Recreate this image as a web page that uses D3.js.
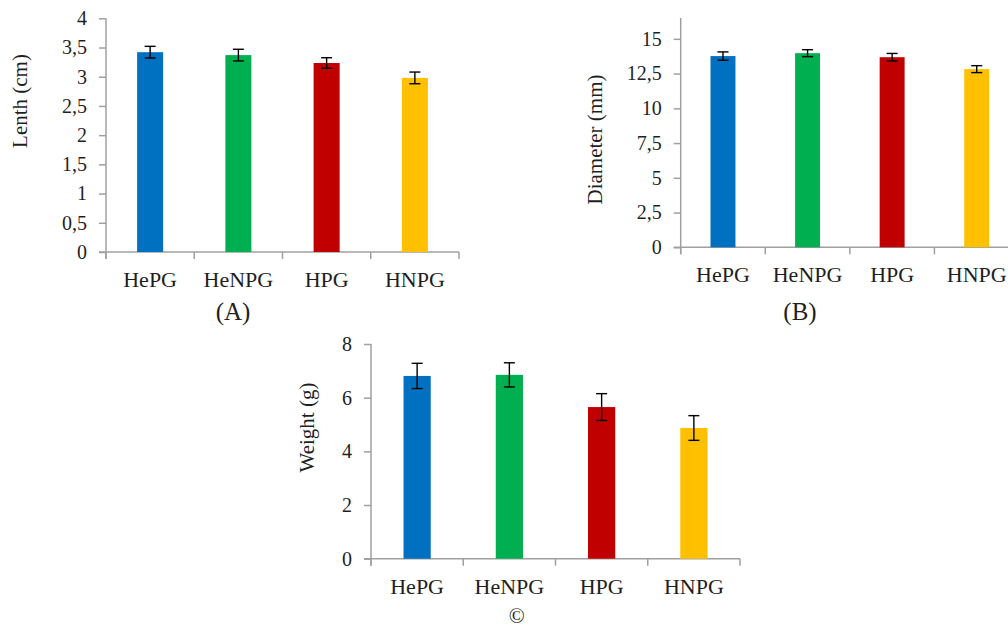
<!DOCTYPE html>
<html>
<head>
<meta charset="utf-8">
<script src="https://cdn.jsdelivr.net/npm/d3@7/dist/d3.min.js"></script>
<style>
  html, body { margin: 0; padding: 0; background: #fff; }
  svg { display: block; }
  text { font-family: "Liberation Serif", "Times New Roman", serif; fill: #1f1f1f; }
</style>
</head>
<body>
<svg id="chart" width="1008" height="629"></svg>
<script>
// ---- Data ----
const categories = ["HePG", "HeNPG", "HPG", "HNPG"];
const barColors = ["#0070C0", "#00B050", "#C00000", "#FFC000"];

const lengthValues = [3.42, 3.37, 3.235, 2.98];
const lengthErrors = [0.10, 0.10, 0.09, 0.10];
const lengthTicks = [0, 0.5, 1, 1.5, 2, 2.5, 3, 3.5, 4];

const diameterValues = [13.76, 13.97, 13.68, 12.82];
const diameterErrors = [0.30, 0.25, 0.27, 0.25];
const diameterTicks = [0, 2.5, 5, 7.5, 10, 12.5, 15];

const weightValues = [6.81, 6.85, 5.65, 4.87];
const weightErrors = [0.47, 0.45, 0.50, 0.46];
const weightTicks = [0, 2, 4, 6, 8];

const panelTitles = ["(A)", "(B)", "\u00A9"];
const axisTitles = ["Lenth (cm)", "Diameter (mm)", "Weight (g)"];

// ---- Drawing ----
const svg = d3.select("#chart");
const fmt = v => String(v).replace(".", ",");
const AXIS = "#a0a0a0";

function drawPanel(p) {
  const g = svg.append("g");
  const x = d3.scaleBand().domain(categories).range([p.x0, p.x1]).padding(0);
  const y = d3.scaleLinear().domain(p.domain).range([p.yBottom, p.yTop]);
  const bw = x.bandwidth() * 0.295;

  // Y axis
  const yAxis = d3.axisLeft(y).tickValues(p.ticks).tickFormat(fmt).tickSize(7).tickSizeOuter(0).tickPadding(12);
  const ya = g.append("g").attr("transform", `translate(${p.x0},0)`).call(yAxis);
  ya.select(".domain").remove();
  ya.selectAll(".tick line").attr("stroke", AXIS).attr("stroke-width", 1.5);
  ya.selectAll(".tick text").style("font-size", "20px").attr("fill", "#1f1f1f");
  g.append("line")
    .attr("x1", p.x0).attr("x2", p.x0)
    .attr("y1", p.yTop).attr("y2", y(0) + 7)
    .attr("stroke", AXIS).attr("stroke-width", 1.5);

  // X axis
  g.append("line")
    .attr("x1", p.x0 - 7).attr("x2", p.x1)
    .attr("y1", y(0)).attr("y2", y(0))
    .attr("stroke", AXIS).attr("stroke-width", 1.5);
  const bounds = categories.map(c => x(c)).concat([p.x1]);
  g.selectAll(".xb").data(bounds).enter().append("line")
    .attr("x1", d => d).attr("x2", d => d)
    .attr("y1", y(0)).attr("y2", y(0) + 7)
    .attr("stroke", AXIS).attr("stroke-width", 1.5);
  const xAxis = d3.axisBottom(x).tickSize(0).tickPadding(0);
  const xa = g.append("g").attr("transform", `translate(0,${y(0)})`).call(xAxis);
  xa.select(".domain").remove();
  xa.selectAll(".tick text").attr("y", 35).attr("dy", 0).style("font-size", "22px").attr("fill", "#1f1f1f");

  // Bars
  g.selectAll(".bar").data(p.values).enter().append("rect")
    .attr("x", (d, i) => x(categories[i]) + (x.bandwidth() - bw) / 2)
    .attr("width", bw)
    .attr("y", d => y(d))
    .attr("height", d => y(0) - y(d))
    .attr("fill", (d, i) => barColors[i]);

  // Error bars
  const eb = g.selectAll(".err").data(p.values).enter().append("g");
  const cx = i => x(categories[i]) + x.bandwidth() / 2;
  eb.append("line")
    .attr("x1", (d, i) => cx(i)).attr("x2", (d, i) => cx(i))
    .attr("y1", (d, i) => y(d + p.errors[i])).attr("y2", (d, i) => y(d - p.errors[i]));
  eb.append("line")
    .attr("x1", (d, i) => cx(i) - 5.5).attr("x2", (d, i) => cx(i) + 5.5)
    .attr("y1", (d, i) => y(d + p.errors[i])).attr("y2", (d, i) => y(d + p.errors[i]));
  eb.append("line")
    .attr("x1", (d, i) => cx(i) - 5.5).attr("x2", (d, i) => cx(i) + 5.5)
    .attr("y1", (d, i) => y(d - p.errors[i])).attr("y2", (d, i) => y(d - p.errors[i]));
  eb.selectAll("line").attr("stroke", "#000").attr("stroke-width", 1.4);

  // Axis title
  g.append("text")
    .attr("transform", `translate(${p.labelX},${p.labelY}) rotate(-90)`)
    .attr("text-anchor", "middle").attr("dy", "0.35em")
    .style("font-size", "21px")
    .text(p.axisTitle);

  // Panel title
  g.append("text")
    .attr("x", p.titleX).attr("y", p.titleY)
    .attr("text-anchor", "middle").attr("dy", p.titleDy)
    .style("font-size", p.titleSize)
    .text(p.title);
}

drawPanel({
  x0: 106, x1: 459, yTop: 18.3, yBottom: 252, domain: [0, 4],
  ticks: lengthTicks, values: lengthValues, errors: lengthErrors,
  axisTitle: axisTitles[0], labelX: 20, labelY: 101,
  title: panelTitles[0], titleX: 233, titleY: 311, titleDy: "0.35em", titleSize: "25px"
});

drawPanel({
  x0: 680.7, x1: 1019, yTop: 18, yBottom: 247.3, domain: [0, 16.5],
  ticks: diameterTicks, values: diameterValues, errors: diameterErrors,
  axisTitle: axisTitles[1], labelX: 595, labelY: 139.5,
  title: panelTitles[1], titleX: 800, titleY: 311, titleDy: "0.35em", titleSize: "25px"
});

drawPanel({
  x0: 371, x1: 740, yTop: 344, yBottom: 558.7, domain: [0, 8],
  ticks: weightTicks, values: weightValues, errors: weightErrors,
  axisTitle: axisTitles[2], labelX: 306.7, labelY: 427.5,
  title: panelTitles[2], titleX: 516.7, titleY: 623, titleDy: 0, titleSize: "21px"
});
</script>
</body>
</html>
